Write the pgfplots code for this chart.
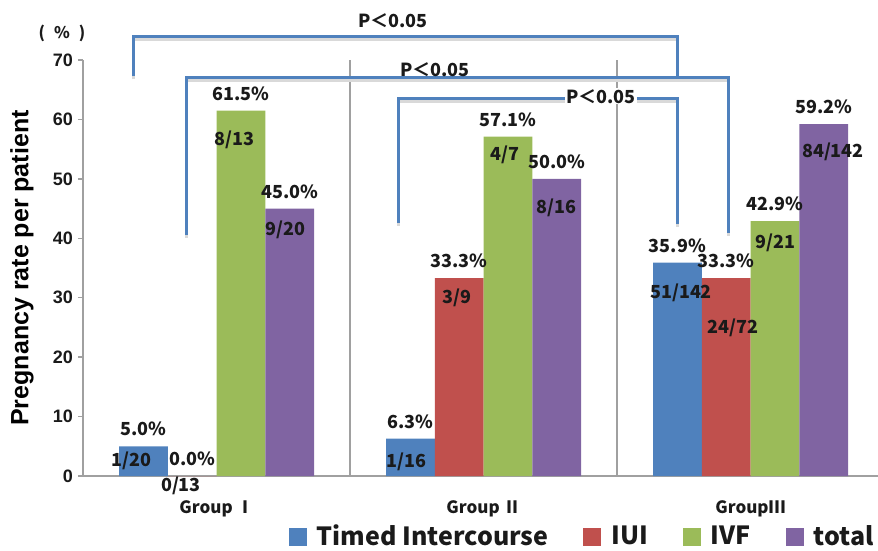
\documentclass[border=0pt]{standalone}
\usepackage{fontspec}
\setmainfont{Liberation Sans}
\newfontfamily\jp{Noto Sans CJK JP}
\usepackage{pgfplots}
\pgfplotsset{compat=1.18}

\definecolor{cTI}{HTML}{4F81BD}
\definecolor{cIUI}{HTML}{C0504D}
\definecolor{cIVF}{HTML}{9BBB59}
\definecolor{cTot}{HTML}{8064A2}
\definecolor{axgray}{HTML}{A0A0A0}
\definecolor{bracketshadow}{HTML}{D9D9D9}
\definecolor{lbl}{HTML}{1A1A1A}

\tikzset{
  frac/.style={font=\jp\bfseries\fontsize{18}{20}\selectfont, text=lbl, inner sep=0pt},
  plbl/.style={font=\jp\bfseries\fontsize{18}{20}\selectfont, text=lbl, inner sep=1pt},
}

% significance bracket: left x, right x, top y, left foot y, right foot y
\newcommand\bracket[5]{%
  \draw[bracketshadow, line width=3pt, yshift=-3pt] (axis cs:#1,#4) -- (axis cs:#1,#3) -- (axis cs:#2,#3) -- (axis cs:#2,#5);
  \draw[cTI, line width=3pt] (axis cs:#1,#4) -- (axis cs:#1,#3) -- (axis cs:#2,#3) -- (axis cs:#2,#5);
}

\begin{document}
\begin{tikzpicture}
\begin{axis}[
  at={(83pt,74pt)}, anchor=south west,
  scale only axis, width=801pt, height=416pt,
  xmin=-0.5, xmax=2.5, ymin=0, ymax=70,
  clip=false,
  /pgf/number format/assume math mode=true,
  axis x line*=bottom, axis y line*=left,
  axis line style={axgray, line width=2pt, -},
  ytick={0,10,...,70},
  ytick style={axgray, line width=1.5pt},
  tick align=outside, major tick length=5pt,
  yticklabel style={font=\bfseries\fontsize{18}{20}\selectfont, text=lbl, inner sep=0pt, xshift=-5pt},
  xtick={0,1,2},
  xticklabels={Group Ⅰ, Group Ⅱ, GroupⅢ},
  xtick style={draw=none},
  xticklabel style={font=\jp\bfseries\fontsize{17}{19}\selectfont, text=lbl, anchor=center, yshift=-28pt},
  extra x ticks={0.5,1.5}, extra x tick labels={},
  extra x tick style={grid=major, major grid style={axgray, line width=1.5pt}, tick style={draw=none}},
  every axis y label/.style={at={(axis description cs:-0.0762,0.5)}, rotate=90, anchor=center},
  ylabel={\bfseries\fontsize{25}{28}\selectfont Pregnancy rate per patient},
  ybar=0pt, bar width=48.75pt,
  nodes near coords={\pgfmathprintnumber[fixed, fixed zerofill, precision=1]{\pgfplotspointmeta}\%},
  every node near coord/.append style={font=\jp\bfseries\fontsize{18}{20}\selectfont, text=lbl, inner sep=0pt, yshift=10pt},
  legend columns=4,
  legend style={at={(axis description cs:0.257,-0.144)}, anchor=west, draw=none, fill=none,
    inner sep=0pt, outer sep=0pt, nodes={inner sep=0pt},
    font=\jp\bfseries\fontsize{25}{27}\selectfont, text=lbl,
    /tikz/every odd column/.append style={column sep=10pt},
    /tikz/every even column/.append style={column sep=35pt}},
  legend image code/.code={\fill[#1] (0pt,-10pt) rectangle (18pt,8pt);},
]
\addplot[fill=cTI, draw=none] coordinates {(0,5.0) (1,6.3) (2,35.9)};
\addplot[fill=cIUI, draw=none] coordinates {(0,0.0) (1,33.3) (2,33.3)};
\addplot[fill=cIVF, draw=none] coordinates {(0,61.5) (1,57.1) (2,42.9)};
\addplot[fill=cTot, draw=none] coordinates {(0,45.0) (1,50.0) (2,59.2)};
\legend{Timed Intercourse, IUI, IVF, total}

% patient counts inside the bars
\node[frac] at (axis cs:-0.320,2.5) {1/20};
\node[frac] at (axis cs:-0.133,-1.7) {0/13};
\node[frac] at (axis cs:0.066,56.5) {8/13};
\node[frac] at (axis cs:0.257,41.4) {9/20};
\node[frac] at (axis cs:0.710,2.36) {1/16};
\node[frac] at (axis cs:0.901,29.95) {3/9};
\node[frac] at (axis cs:1.080,54.0) {4/7};
\node[frac] at (axis cs:1.272,45.1) {8/16};
\node[frac] at (axis cs:1.740,30.8) {51/142};
\node[frac] at (axis cs:1.934,24.9) {24/72};
\node[frac] at (axis cs:2.092,39.2) {9/21};
\node[frac] at (axis cs:2.309,54.5) {84/142};

% significance brackets
\bracket{-0.309}{1.725}{73.9}{67.3}{67.3}
\bracket{-0.114}{1.916}{67.05}{40.6}{40.9}
\bracket{0.680}{1.725}{63.5}{42.6}{42.4}
\node[plbl] at (axis cs:0.661,76.6) {P＜0.05};
\node[plbl] at (axis cs:0.818,68.3) {P＜0.05};
\node[plbl, fill=white] at (axis cs:1.440,63.9) {P＜0.05};

% unit of the value axis
\node[font=\jp\bfseries\fontsize{16}{18}\selectfont, text=lbl, inner sep=0pt] at (axis cs:-0.579,74.5) {(\hspace{9pt}\%\hspace{9pt})};
\end{axis}
\pgfresetboundingbox
\useasboundingbox (0,0) rectangle (878pt,550pt);
\end{tikzpicture}
\end{document}
